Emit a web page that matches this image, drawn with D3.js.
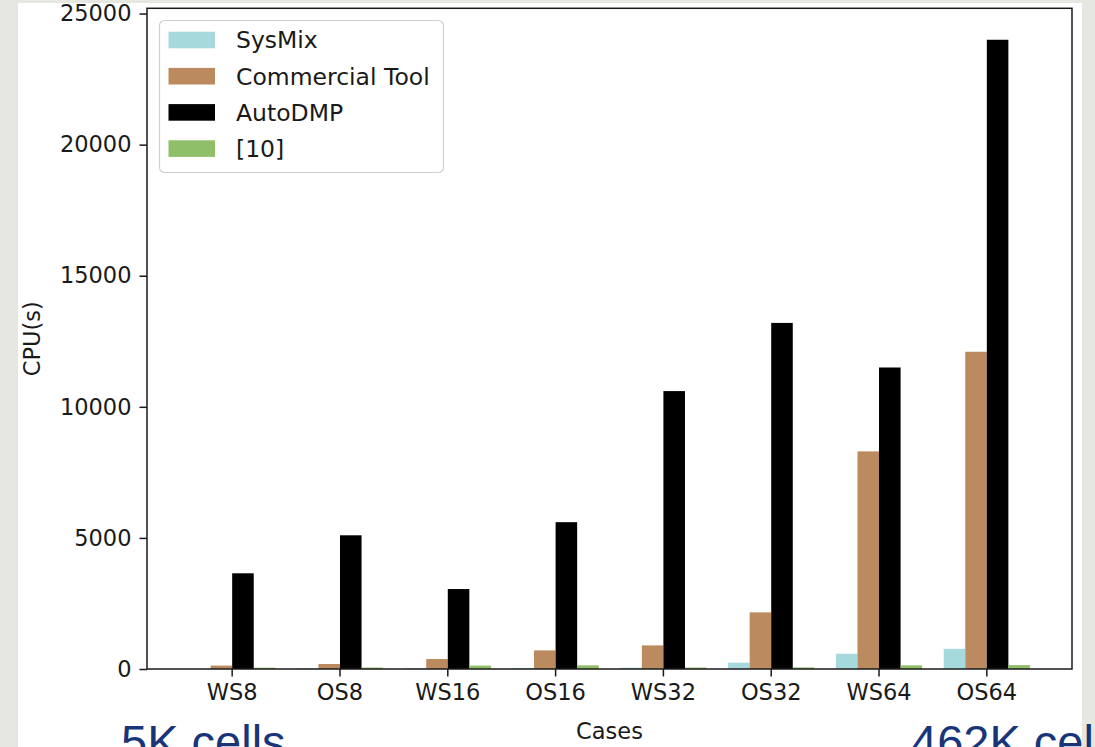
<!DOCTYPE html>
<html>
<head>
<meta charset="utf-8">
<script src="https://cdn.jsdelivr.net/npm/d3@7"></script>
<style>
  html, body { margin: 0; padding: 0; background: #e7e7e2; }
  svg { display: block; }
</style>
</head>
<body>
<svg id="chart" width="1095" height="747"></svg>
<script>
// Benchmark cases and CPU runtime (seconds) for each placer
const cases = ["WS8", "OS8", "WS16", "OS16", "WS32", "OS32", "WS64", "OS64"];
const seriesNames = ["SysMix", "Commercial Tool", "AutoDMP", "[10]"];
const sysMix = [5, 30, 35, 40, 50, 240, 580, 770];
const commercialTool = [130, 190, 380, 710, 900, 2160, 8300, 12100];
const autoDMP = [3650, 5100, 3050, 5600, 10600, 13200, 11500, 24000];
const ref10 = [50, 55, 130, 140, 55, 60, 140, 150];
const yTicks = [0, 5000, 10000, 15000, 20000, 25000];
const colors = ["#a6d9db", "#bb8b5f", "#000000", "#8fbf68"];

const allSeries = [sysMix, commercialTool, autoDMP, ref10];

const svg = d3.select("#chart");
const font = "'DejaVu Sans', sans-serif";

// white slide area behind the plot
svg.append("rect").attr("x", 18).attr("y", 3).attr("width", 1064).attr("height", 744)
  .attr("fill", "#ffffff");

const plot = { left: 147, right: 1072, top: 8.3, bottom: 669 };

const x0 = d3.scaleBand().domain(cases).range([plot.left, plot.right])
  .paddingInner(0.2).paddingOuter(0.39);
const x1 = d3.scaleBand().domain(seriesNames).range([0, x0.bandwidth()]).padding(0);
const yMax = d3.max(allSeries.flat()) * 1.05;
const y = d3.scaleLinear().domain([0, yMax]).range([plot.bottom, plot.top]);

// bars
const g = svg.append("g");
cases.forEach((c, i) => {
  seriesNames.forEach((s, j) => {
    const v = allSeries[j][i];
    g.append("rect")
      .attr("x", x0(c) + x1(s))
      .attr("y", y(v))
      .attr("width", x1.bandwidth())
      .attr("height", y(0) - y(v))
      .attr("fill", colors[j]);
  });
});

// axes
const xAxis = d3.axisBottom(x0).tickSizeOuter(0).tickSize(7.5).tickPadding(8);
const yAxis = d3.axisLeft(y).tickValues(yTicks).tickFormat(d3.format("d"))
  .tickSizeOuter(0).tickSize(7.5).tickPadding(8);

const gx = svg.append("g").attr("transform", `translate(0,${plot.bottom})`).call(xAxis);
const gy = svg.append("g").attr("transform", `translate(${plot.left},0)`).call(yAxis);
[gx, gy].forEach(a => {
  a.select(".domain").remove();
  a.selectAll(".tick line").attr("stroke", "#1a1a1a").attr("stroke-width", 1.5);
  a.selectAll(".tick text").attr("fill", "#1a1a1a").style("font-family", font).style("font-size", "22.5px");
});

// frame
svg.append("rect")
  .attr("x", plot.left).attr("y", plot.top)
  .attr("width", plot.right - plot.left).attr("height", plot.bottom - plot.top)
  .attr("fill", "none").attr("stroke", "#1a1a1a").attr("stroke-width", 1.5);

// axis titles
svg.append("text").attr("x", (plot.left + plot.right) / 2).attr("y", 739)
  .attr("text-anchor", "middle").attr("fill", "#1a1a1a")
  .style("font-family", font).style("font-size", "22.5px").text("Cases");
svg.append("text")
  .attr("transform", `translate(40,${(plot.top + plot.bottom) / 2}) rotate(-90)`)
  .attr("text-anchor", "middle").attr("fill", "#1a1a1a")
  .style("font-family", font).style("font-size", "22.5px").text("CPU(s)");

// legend
const legend = svg.append("g");
legend.append("rect").attr("x", 159.5).attr("y", 20.5).attr("width", 284).attr("height", 152)
  .attr("rx", 5).attr("fill", "#ffffff").attr("fill-opacity", 0.8)
  .attr("stroke", "#d0d0d0").attr("stroke-width", 1.2);
seriesNames.forEach((s, j) => {
  const cy = 40 + j * 36.2;
  legend.append("rect").attr("x", 168.5).attr("y", cy - 8.3).attr("width", 46.5).attr("height", 16.6)
    .attr("fill", colors[j]);
  legend.append("text").attr("x", 236).attr("y", cy).attr("dy", "0.36em")
    .attr("fill", "#1a1a1a").style("font-family", font).style("font-size", "23.5px").text(s);
});

// slide annotations for the design sizes
const note = "'Liberation Sans', Arial, sans-serif";
svg.append("text").attr("x", 121).attr("y", 758).attr("fill", "#18357a")
  .style("font-family", note).style("font-size", "47px").text("5K cells");
svg.append("text").attr("x", 911).attr("y", 758).attr("fill", "#18357a")
  .style("font-family", note).style("font-size", "47px").text("462K cells");
</script>
</body>
</html>
